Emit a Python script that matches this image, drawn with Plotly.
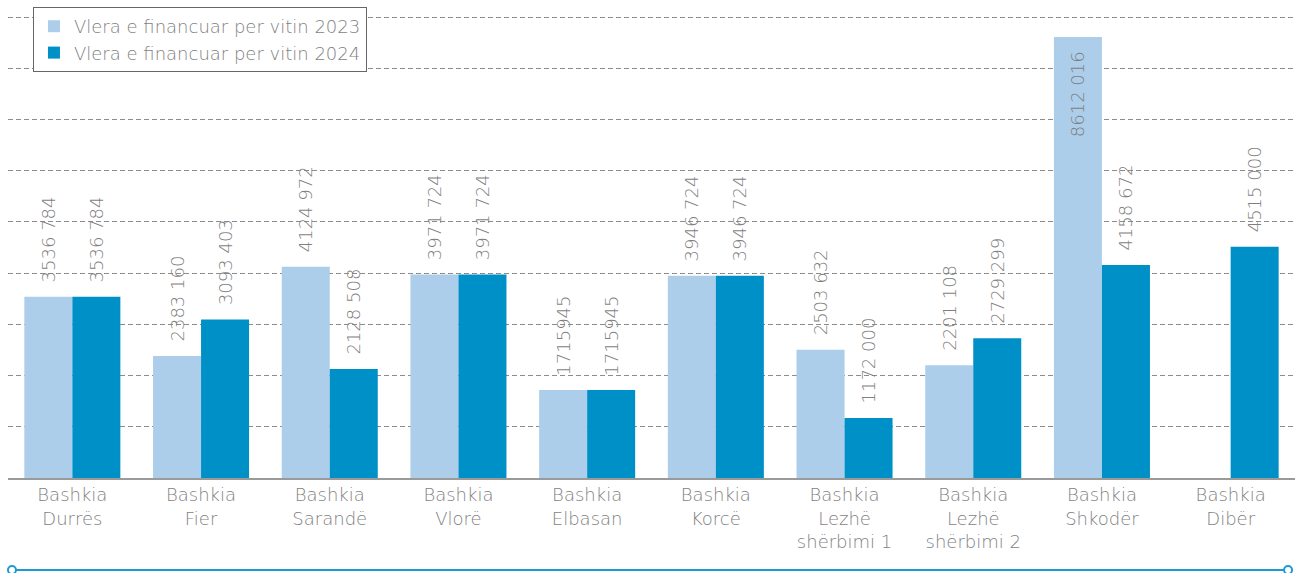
import plotly.graph_objects as go

categories = [
    "Bashkia<br>Durrës", "Bashkia<br>Fier", "Bashkia<br>Sarandë", "Bashkia<br>Vlorë",
    "Bashkia<br>Elbasan", "Bashkia<br>Korcë", "Bashkia<br>Lezhë<br>shërbimi 1",
    "Bashkia<br>Lezhë<br>shërbimi 2", "Bashkia<br>Shkodër", "Bashkia<br>Dibër",
]
values_2023 = [3536784, 2383160, 4124972, 3971724, 1715945, 3946724, 2503632, 2201108, 8612016, None]
values_2024 = [3536784, 3093403, 2128508, 3971724, 1715945, 3946724, 1172000, 2729299, 4158672, 4515000]
labels_2023 = ["3536 784", "2383 160", "4124 972", "3971 724", "1715945", "3946 724", "2503 632", "2201 108", "8612 016", ""]
labels_2024 = ["3536 784", "3093 403", "2128 508", "3971 724", "1715945", "3946 724", "1172 000", "2729 299", "4158 672", "4515 000"]
series_names = ["Vlera e financuar per vitin 2023", "Vlera e financuar per vitin 2024"]

FONT = "DejaVu Sans"
TXT = "#7f7f7f"
LIGHT = "#acceeb"
DARK = "#0090c8"
LINE_BLUE = "#1c9bd3"
NB = "\u00a0\u00a0"

def pad(s):
    return NB + s + NB if s else s

pos_2023 = ["inside" if v is not None and v > 8e6 else "outside" for v in values_2023]
tf = dict(family=FONT, size=18, color=TXT, weight=200)

fig = go.Figure()
fig.add_trace(go.Bar(
    x=categories, y=values_2023, name=series_names[0],
    marker=dict(color=LIGHT, line=dict(width=0)),
    text=[pad(s) for s in labels_2023], textposition=pos_2023,
    insidetextanchor="end", textangle=-90, constraintext="none",
    textfont=tf, insidetextfont=tf, outsidetextfont=tf,
    cliponaxis=False, hoverinfo="skip",
))
fig.add_trace(go.Bar(
    x=categories, y=values_2024, name=series_names[1],
    marker=dict(color=DARK, line=dict(width=0)),
    text=[pad(s) for s in labels_2024], textposition="outside",
    textangle=-90, constraintext="none",
    textfont=tf, outsidetextfont=tf,
    cliponaxis=False, hoverinfo="skip",
))

# plot area: top 10px, baseline at 478px
fig.update_layout(
    width=1295, height=573,
    margin=dict(l=8, r=0, t=10, b=95),
    paper_bgcolor="white", plot_bgcolor="white",
    barmode="group", bargap=0.254, bargroupgap=0,
    font=tf,
    showlegend=True,
    legend=dict(
        x=0.0194, y=1.0064, xanchor="left", yanchor="top",
        bgcolor="white", bordercolor="#666666", borderwidth=1,
        font=tf, tracegroupgap=0,
    ),
    xaxis=dict(
        showline=True, linecolor="#9a9a9a", linewidth=1.5,
        ticks="", showgrid=False, tickfont=tf,
    ),
    yaxis=dict(
        range=[0, 9137000], dtick=1000000, showticklabels=False,
        showgrid=True, gridcolor="#8c8c8c", gridwidth=1.2, griddash="5px,3px",
        zeroline=False, showline=False, ticks="",
    ),
    shapes=[
        dict(type="line", xref="paper", yref="paper", x0=0.0031, x1=0.9946, y0=-0.1966, y1=-0.1966,
             line=dict(color=LINE_BLUE, width=2)),
        dict(type="circle", xref="paper", yref="paper", xsizemode="pixel", ysizemode="pixel",
             xanchor=0.0031, yanchor=-0.1966, x0=-4, x1=4, y0=-4, y1=4,
             line=dict(color=LINE_BLUE, width=2), fillcolor="white"),
        dict(type="circle", xref="paper", yref="paper", xsizemode="pixel", ysizemode="pixel",
             xanchor=0.9946, yanchor=-0.1966, x0=-4, x1=4, y0=-4, y1=4,
             line=dict(color=LINE_BLUE, width=2), fillcolor="white"),
    ],
)

fig.write_html(
    "out.html",
    config={"displayModeBar": False},
    post_script="document.body.style.margin='0';document.body.style.overflow='hidden';",
)
